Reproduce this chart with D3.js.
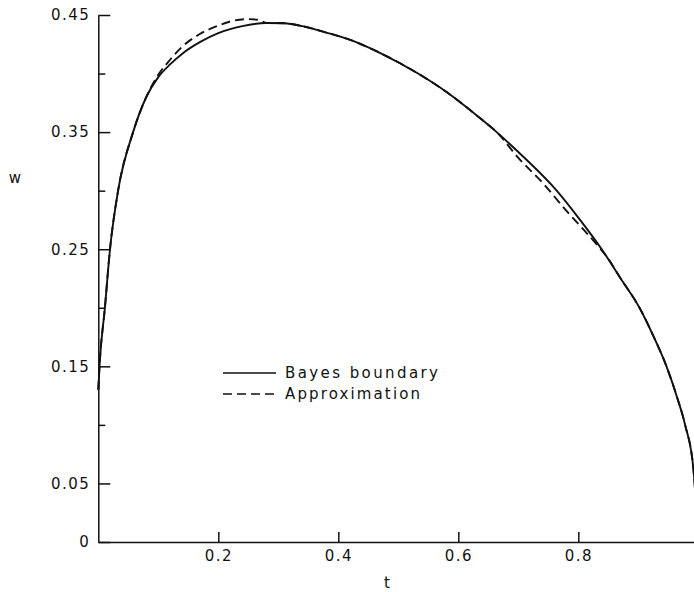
<!DOCTYPE html>
<html>
<head>
<meta charset="utf-8">
<script src="https://cdn.jsdelivr.net/npm/d3@7"></script>
<style>
  body { margin: 0; background: #fff; }
  svg { display: block; }
  text { font-family: "DejaVu Sans", sans-serif; fill: #111; }
</style>
</head>
<body>
<svg id="chart" width="694" height="592"></svg>
<script>
// Bayes boundary (solid)
const bayesT = [0, 0.002, 0.011, 0.0195, 0.033, 0.058, 0.08, 0.10, 0.12, 0.14, 0.17, 0.20, 0.24, 0.28, 0.31, 0.34, 0.38, 0.42, 0.47, 0.533, 0.581, 0.636, 0.664, 0.70, 0.764, 0.80, 0.839, 0.87, 0.902, 0.925, 0.947, 0.965, 0.978, 0.992, 1.0];
const bayesW = [0.13, 0.15, 0.20, 0.25, 0.30, 0.35, 0.38, 0.397, 0.408, 0.417, 0.427, 0.4345, 0.4405, 0.4432, 0.443, 0.4405, 0.435, 0.4287, 0.4175, 0.40, 0.384, 0.362, 0.35, 0.333, 0.30, 0.277, 0.25, 0.2255, 0.20, 0.176, 0.15, 0.123, 0.10, 0.0615, 0];

// Approximation (dashed)
const approxT = [0, 0.002, 0.011, 0.0195, 0.033, 0.058, 0.08, 0.10, 0.12, 0.14, 0.17, 0.20, 0.22, 0.25, 0.265, 0.28, 0.31, 0.34, 0.38, 0.42, 0.47, 0.533, 0.581, 0.636, 0.664, 0.70, 0.74, 0.78, 0.81, 0.83, 0.85, 0.87, 0.902, 0.925, 0.947, 0.965, 0.978, 0.992, 1.0];
const approxW = [0.13, 0.15, 0.20, 0.25, 0.30, 0.35, 0.38, 0.399, 0.412, 0.423, 0.434, 0.441, 0.4445, 0.4465, 0.446, 0.4433, 0.443, 0.4405, 0.435, 0.4287, 0.4175, 0.40, 0.384, 0.362, 0.35, 0.328, 0.307, 0.283, 0.266, 0.2545, 0.2418, 0.2255, 0.20, 0.176, 0.15, 0.123, 0.10, 0.0615, 0];

const xMajorTicks = [0.2, 0.4, 0.6, 0.8];
const yMajorTicks = [0, 0.05, 0.15, 0.25, 0.35, 0.45];
const yMinorTicks = [0.1, 0.2, 0.3, 0.4];
const legendLabels = ["Bayes boundary", "Approximation"];

const svg = d3.select("#chart");
const ink = "#111";

const x = d3.scaleLinear().domain([0, 1]).range([98.3, 698.3]);
const y = d3.scaleLinear().domain([0, 0.45]).range([542, 15]);

const fmtY = d => d === 0 ? "0" : d3.format(".2f")(d).replace(/^0/, "0");

// y axis: long ticks with labels, short ticks without
const yAxis = svg.append("g")
  .attr("transform", `translate(${x(0)},0)`)
  .call(d3.axisLeft(y).tickValues(yMajorTicks).tickSize(-12).tickSizeOuter(0)
    .tickPadding(8).tickFormat(fmtY));
svg.append("g")
  .attr("transform", `translate(${x(0)},0)`)
  .call(d3.axisLeft(y).tickValues(yMinorTicks).tickSize(-7).tickSizeOuter(0).tickFormat(""))
  .select(".domain").remove();

const xAxis = svg.append("g")
  .attr("transform", `translate(0,${y(0)})`)
  .call(d3.axisBottom(x).tickValues(xMajorTicks).tickSize(-10).tickSizeOuter(0)
    .tickPadding(8).tickFormat(d3.format(".1f")));

svg.selectAll(".domain, .tick line").attr("stroke", ink).attr("stroke-width", 1.5);
svg.selectAll(".tick text")
  .attr("font-size", 15)
  .attr("fill", ink)
  .attr("font-family", "DejaVu Sans, sans-serif")
  .style("letter-spacing", "1.5px");

// axis titles
svg.append("text").attr("x", 15).attr("y", 178).attr("dy", "0.35em")
  .attr("text-anchor", "middle").attr("font-size", 15).text("w");
svg.append("text").attr("x", 387).attr("y", 583).attr("dy", "0.35em")
  .attr("text-anchor", "middle").attr("font-size", 15).text("t");

// curves
const line = d3.line().x(d => x(d[0])).y(d => y(d[1])).curve(d3.curveMonotoneX);
const bayes = bayesT.map((t, i) => [t, bayesW[i]]);
const approx = approxT.map((t, i) => [t, approxW[i]]);

svg.append("path").datum(bayes)
  .attr("d", line).attr("fill", "none").attr("stroke", ink).attr("stroke-width", 1.9);
svg.append("path").datum(approx)
  .attr("d", line).attr("fill", "none").attr("stroke", ink).attr("stroke-width", 1.9)
  .attr("stroke-dasharray", "9,5");

// legend
const legend = svg.append("g");
legendLabels.forEach((lab, i) => {
  const ly = 373 + i * 21;
  legend.append("line")
    .attr("x1", 223).attr("x2", 276).attr("y1", ly).attr("y2", ly)
    .attr("stroke", ink).attr("stroke-width", 1.6)
    .attr("stroke-dasharray", i === 0 ? null : "9,5");
  legend.append("text")
    .attr("x", 285).attr("y", ly).attr("dy", "0.35em")
    .attr("font-size", 15)
    .attr("textLength", i === 0 ? 153 : 135).attr("lengthAdjust", "spacing")
    .text(lab);
});
</script>
</body>
</html>
